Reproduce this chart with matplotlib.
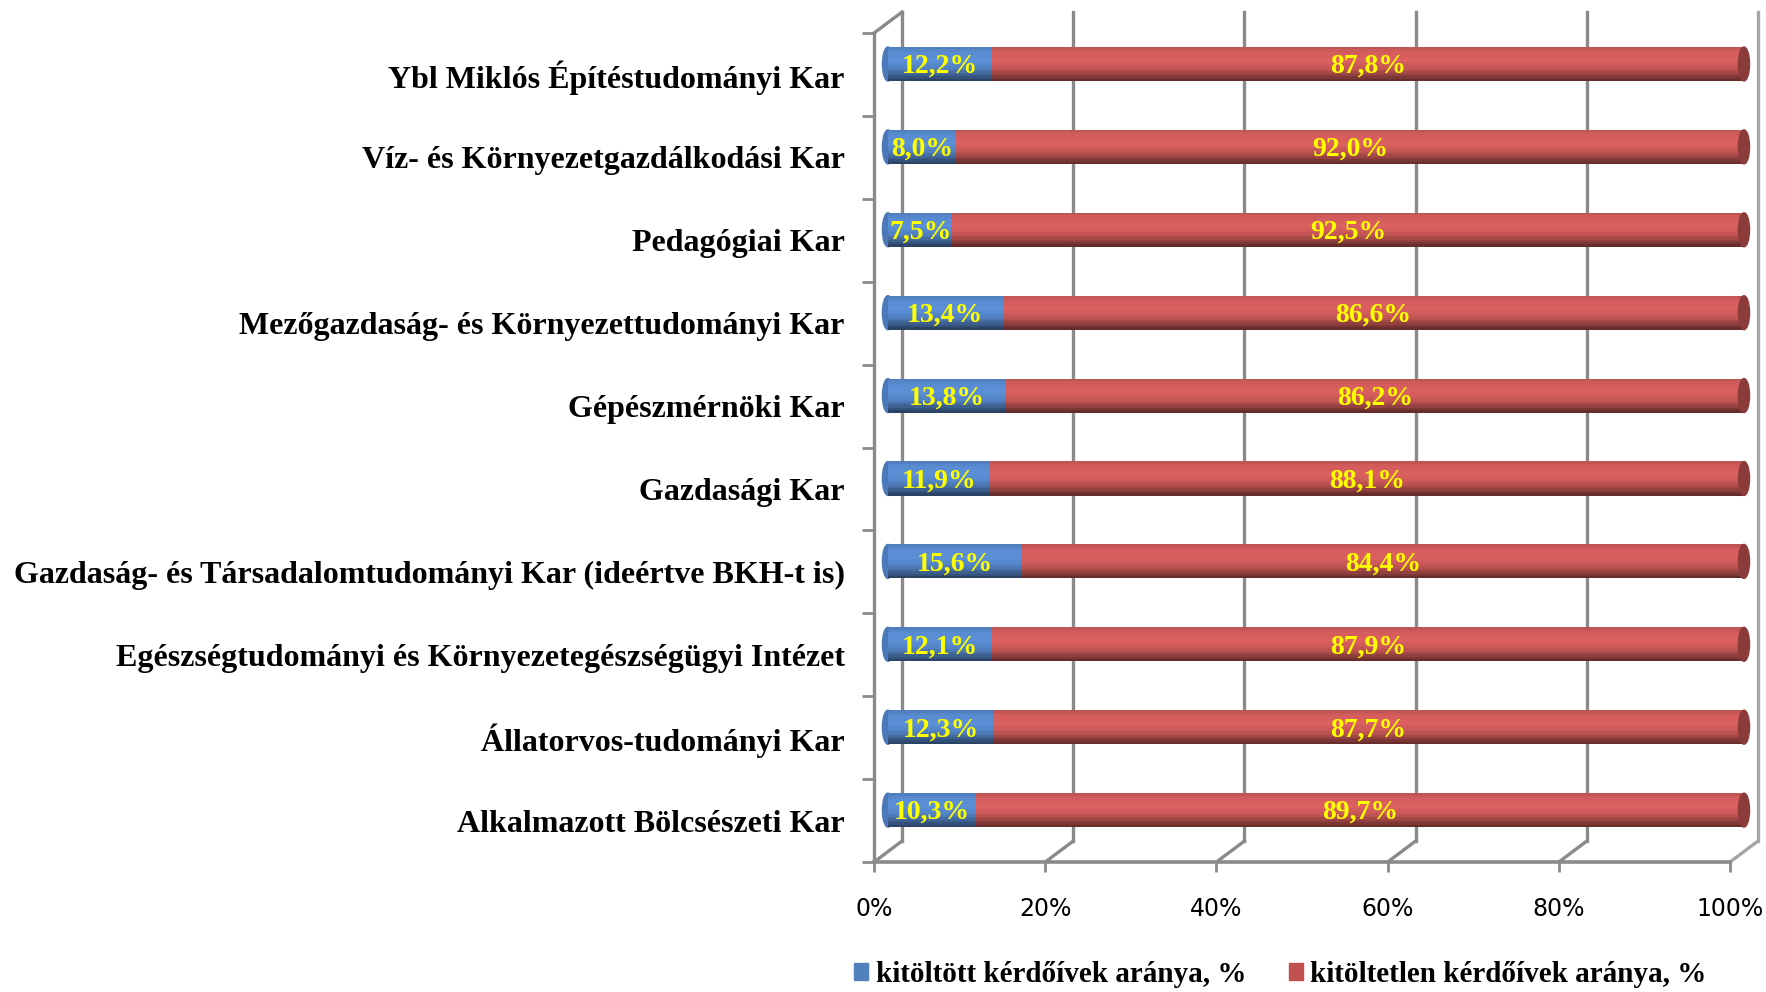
import numpy as np
import matplotlib.pyplot as plt
from matplotlib.patches import Ellipse, Patch

faculties = [
    "Alkalmazott Bölcsészeti Kar",
    "Állatorvos-tudományi Kar",
    "Egészségtudományi és Környezetegészségügyi Intézet",
    "Gazdaság- és Társadalomtudományi Kar (ideértve BKH-t is)",
    "Gazdasági Kar",
    "Gépészmérnöki Kar",
    "Mezőgazdaság- és Környezettudományi Kar",
    "Pedagógiai Kar",
    "Víz- és Környezetgazdálkodási Kar",
    "Ybl Miklós Építéstudományi Kar",
]
filled = [10.3, 12.3, 12.1, 15.6, 11.9, 13.8, 13.4, 7.5, 8.0, 12.2]
unfilled = [89.7, 87.7, 87.9, 84.4, 88.1, 86.2, 86.6, 92.5, 92.0, 87.8]
x_ticks = [0, 20, 40, 60, 80, 100]
x_labels = ["0%", "20%", "40%", "60%", "80%", "100%"]
series_names = ["kitöltött kérdőívek aránya, %", "kitöltetlen kérdőívek aránya, %"]

serif = "Liberation Serif"
grid_col = "#8a8a8a"

fig = plt.figure(figsize=(17.66, 9.92), dpi=100)
ax = fig.add_axes([0.4949, 0.1310, 0.4847, 0.8357])
ax.set_xlim(0, 100)
ax.set_ylim(-0.5, len(faculties) - 0.5)
for s in ax.spines.values():
    s.set_visible(False)

# fake 3D depth, in data units
dx, dy = 3.27, 0.253
top = len(faculties) - 0.5

# back wall gridlines and floor diagonals
for t in x_ticks:
    c = "#a6a6a6" if t == 100 else grid_col
    ax.plot([t + dx, t + dx], [-0.5 + dy, top + dy], color=c, lw=2.4, clip_on=False, zorder=1)
    ax.plot([t, t + dx], [-0.5, -0.5 + dy], color=c, lw=2.4, clip_on=False, zorder=1)
# front left wall and floor edge
ax.plot([0, 0], [-0.5, top], color=grid_col, lw=2.4, clip_on=False, zorder=5)
ax.plot([0, dx], [top, top + dy], color=grid_col, lw=2.4, clip_on=False, zorder=5)
ax.plot([0, 100], [-0.5, -0.5], color=grid_col, lw=2.6, clip_on=False, zorder=5)

y = np.arange(len(faculties)) + dy / 2
left0 = dx / 2
h = 0.41


def cylinder(lefts, widths, base):
    # shaded horizontal strips to look like a cylinder
    base = np.array(plt.matplotlib.colors.to_rgb(base))
    n = 14
    for k in range(n):
        v = (k + 0.5) / n
        f = np.interp(v, [0, 0.15, 0.35, 0.6, 0.85, 1.0], [0.42, 0.62, 0.88, 1.0, 0.97, 0.85])
        bars = ax.barh(y - h / 2 + (k + 0.5) * h / n, widths, height=h / n * 1.05, left=lefts,
                       color=np.clip(base * f, 0, 1), zorder=3, linewidth=0)
        for b in bars:
            b.set_clip_on(False)


blue = "#5b90d8"
red = "#dc6060"
cylinder(left0, filled, blue)
red_left = left0 + np.array(filled)
cylinder(red_left, unfilled, red)

for yi, l, w in zip(y, red_left, unfilled):
    ax.add_patch(Ellipse((l + w, yi), 1.3, h, color="#8c3b3b", zorder=4, clip_on=False))
    ax.add_patch(Ellipse((left0, yi), 1.3, h, color="#4a78b8", zorder=2.9, clip_on=False))

for yi, f, u in zip(y, filled, unfilled):
    ax.text(left0 + f / 2, yi - 0.03, f"{f:.1f}%".replace(".", ","), color="#ffff00",
            fontsize=20, fontweight="bold", family=serif, ha="center", va="center", zorder=6)
    ax.text(left0 + f + u / 2, yi - 0.03, f"{u:.1f}%".replace(".", ","), color="#ffff00",
            fontsize=20, fontweight="bold", family=serif, ha="center", va="center", zorder=6)

ax.set_xticks(x_ticks)
ax.set_xticklabels(x_labels, fontsize=17, family="DejaVu Sans")
ax.tick_params(axis="x", direction="out", length=7, width=2, color=grid_col, pad=18)

ax.set_yticks(np.arange(len(faculties)))
ax.set_yticklabels(faculties, fontsize=23, fontweight="bold", family=serif)
ax.set_yticks(np.arange(len(faculties) + 1) - 0.5, minor=True)
ax.tick_params(axis="y", which="major", length=0, pad=21)
ax.tick_params(axis="y", which="minor", direction="out", length=9, width=2, color=grid_col)

handles = [Patch(color="#4f81bd"), Patch(color="#c0504d")]
fig.legend(handles, series_names, loc="center", bbox_to_anchor=(0.725, 0.018), ncol=2,
           frameon=False, prop={"family": serif, "weight": "bold", "size": 21},
           handlelength=0.5, handleheight=0.5, handletextpad=0.25, columnspacing=1.45)

fig.savefig("out.png", dpi=100)
